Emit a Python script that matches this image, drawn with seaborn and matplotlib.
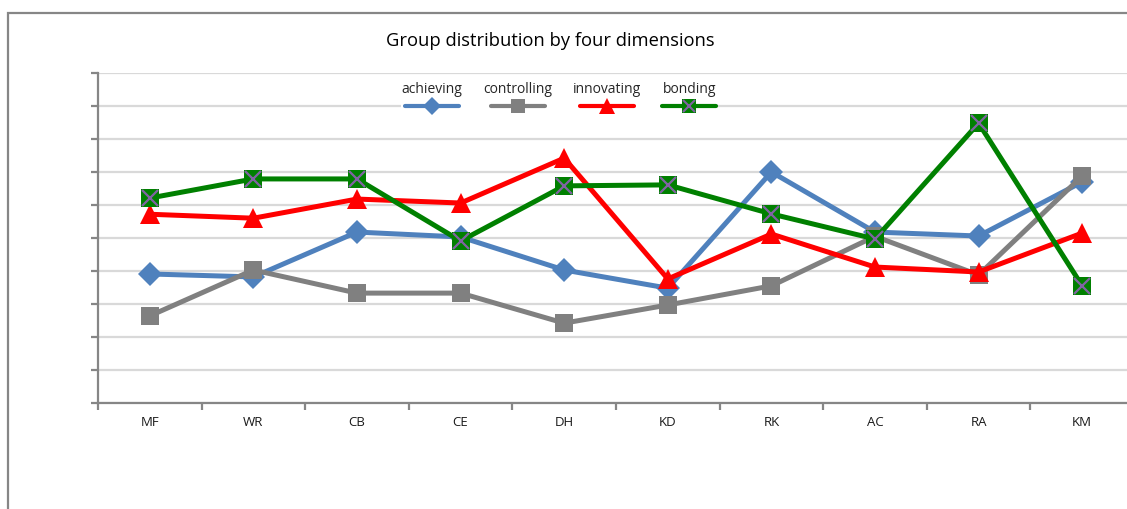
import matplotlib
matplotlib.use("Agg")
import matplotlib.pyplot as plt
import seaborn as sns
import pandas as pd
import numpy as np
from matplotlib.lines import Line2D
from matplotlib.patches import Rectangle
from matplotlib.legend_handler import HandlerTuple
from matplotlib.offsetbox import VPacker

categories = ["MF", "WR", "CB", "CE", "DH", "KD", "RK", "AC", "RA", "KM"]
achieving = [3.91, 3.82, 5.18, 5.03, 4.03, 3.48, 7.00, 5.18, 5.06, 6.70]
controlling = [2.64, 4.03, 3.33, 3.33, 2.42, 2.97, 3.55, 5.05, 3.88, 6.88]
innovating = [5.72, 5.60, 6.18, 6.06, 7.42, 3.76, 5.12, 4.12, 3.97, 5.15]
bonding = [6.21, 6.79, 6.79, 4.91, 6.58, 6.61, 5.73, 4.97, 8.48, 3.55]
title = "Group distribution by four dimensions"

series = {
    "achieving": (achieving, "#4F81BD", "D", 12),
    "controlling": (controlling, "#808080", "s", 12.5),
    "innovating": (innovating, "#FF0000", "^", 14),
    "bonding": (bonding, "#008000", "s", 12.5),
}
cross_color = "#8064A2"

sns.set_theme(style="white")
plt.rcParams["font.family"] = ["Open Sans", "DejaVu Sans"]

fig = plt.figure(figsize=(11.27, 5.09), dpi=100)
ax = fig.add_axes([98 / 1127, 1 - 403 / 509, 1036 / 1127, 330 / 509])

# outer chart frame
fig.patches.append(Rectangle((8 / 1127, -0.2), 1.2, 1 - 13 / 509 + 0.2,
                             transform=fig.transFigure, fill=False,
                             edgecolor="#868686", linewidth=1.6, zorder=0))

x = np.arange(len(categories))
for name, (vals, color, marker, ms) in series.items():
    df = pd.DataFrame({"x": x, "y": vals})
    sns.lineplot(data=df, x="x", y="y", ax=ax, color=color, linewidth=3.6,
                 marker=marker, markersize=ms, markeredgewidth=0,
                 markerfacecolor=color, zorder=3, legend=False)
    if name == "bonding":
        ax.plot(x, vals, linestyle="none", marker="x", markersize=11.5,
                markeredgewidth=1.6, color=cross_color, zorder=4)

ax.set_xlim(-0.5, len(categories) - 0.5)
ax.set_ylim(0, 10)
ax.set_xticks(x)
ax.set_xticklabels(categories, fontsize=9.5, color="#1a1a1a")
ax.set_xticks(np.arange(-0.5, len(categories), 1.0), minor=True)
ax.tick_params(axis="x", which="major", length=0, pad=9)
ax.tick_params(axis="x", which="minor", length=5, width=1.6, color="#868686",
               direction="out", bottom=True)
ax.set_yticks(np.arange(0, 11, 1))
ax.set_yticklabels([])
ax.tick_params(axis="y", length=5, width=1.6, color="#868686", direction="out", left=True)
ax.set_xlabel("")
ax.set_ylabel("")
ax.yaxis.grid(True, color="#D9D9D9", linewidth=1.6)
ax.xaxis.grid(False)
ax.set_axisbelow(True)
for side in ["top", "right"]:
    ax.spines[side].set_visible(False)
for side in ["left", "bottom"]:
    ax.spines[side].set_color("#868686")
    ax.spines[side].set_linewidth(1.6)

fig.text(550 / 1127, 1 - 41 / 509, title, ha="center", va="center",
         fontsize=13.2, color="#000000")

handles = []
for name, (vals, color, marker, ms) in series.items():
    h = Line2D([], [], color=color, linewidth=3, marker=marker,
               markersize=ms - 2.5, markeredgewidth=0, markerfacecolor=color)
    if name == "bonding":
        hx = Line2D([], [], linestyle="none", marker="x", markersize=9,
                    markeredgewidth=1.5, color=cross_color)
        h = (h, hx)
    handles.append(h)

leg = ax.legend(handles, list(series.keys()), ncol=4, loc="upper center",
                bbox_to_anchor=(0.445, 0.997), fontsize=10, frameon=True,
                facecolor="white", edgecolor="none", framealpha=1,
                handlelength=3.9, columnspacing=1.5, borderpad=0.05,
                handler_map={tuple: HandlerTuple(ndivide=1)})
leg.get_frame().set_boxstyle("square", pad=0)
# put each label above its line sample
for col in leg._legend_handle_box.get_children():
    new_items = []
    for item in col.get_children():
        h, t = item.get_children()
        new_items.append(VPacker(pad=0, sep=3, children=[t, h], align="center"))
    col._children = new_items
    col.align = "center"
leg._legend_box.set_figure(fig)
leg.set_zorder(5)

fig.savefig("out.png", dpi=100, facecolor="white")
